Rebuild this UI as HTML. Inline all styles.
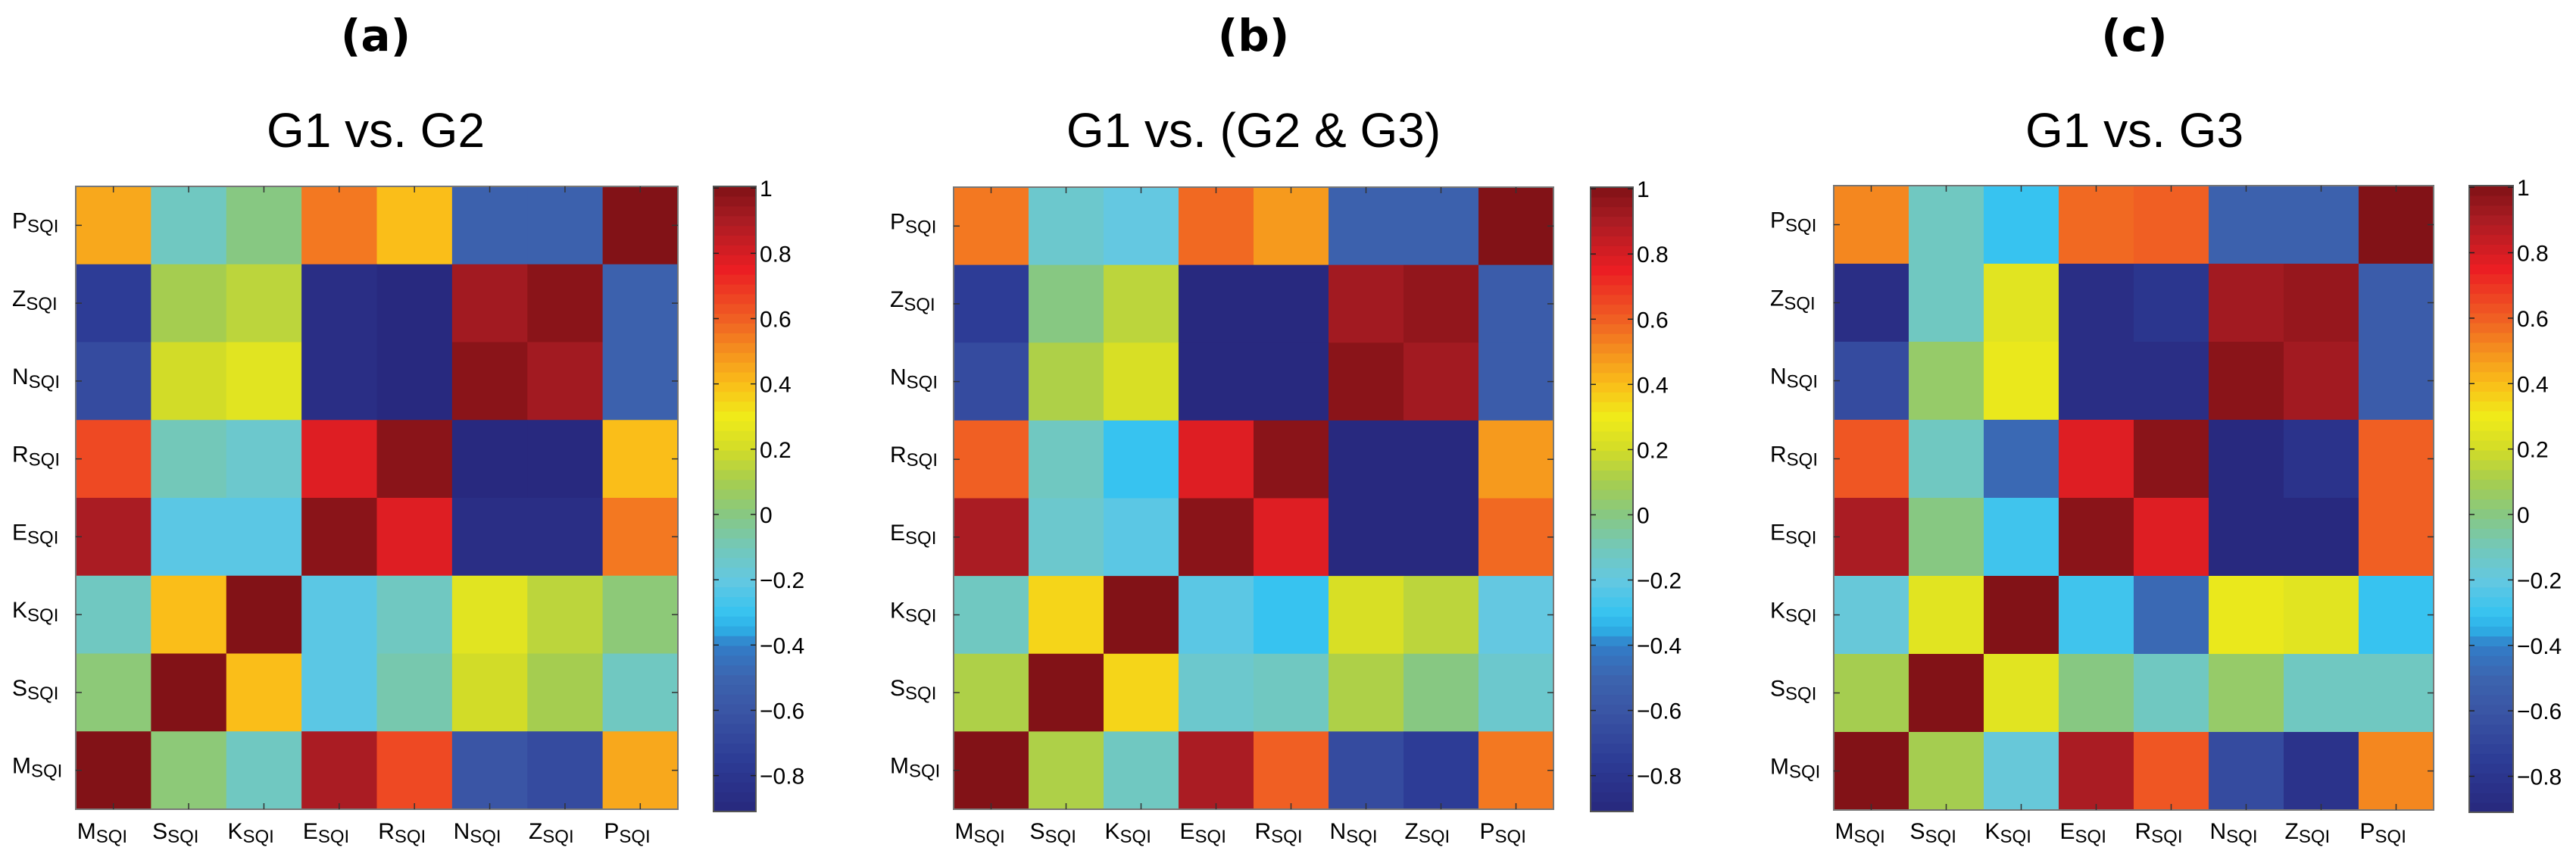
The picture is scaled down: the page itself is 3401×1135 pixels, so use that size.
<!DOCTYPE html>
<html><head><meta charset="utf-8">
<style>
html,body{margin:0;padding:0;background:#fff;}
svg{display:block;font-family:"Liberation Sans",Arial,sans-serif;}
</style></head>
<body>
<svg id="fig" width="3401" height="1135" viewBox="0 0 3401 1135" xmlns="http://www.w3.org/2000/svg"></svg>
<script>
// ---- data ----
const labels = ["M","S","K","E","R","N","Z","P"];           // columns (x) left->right
const rowLabels = ["P","Z","N","R","E","K","S","M"];        // rows top->bottom
const cbTicks = [1,0.8,0.6,0.4,0.2,0,-0.2,-0.4,-0.6,-0.8];
const cbTickLabels = ["1","0.8","0.6","0.4","0.2","0","\u22120.2","\u22120.4","\u22120.6","\u22120.8"];
const panelTags = ["(a)","(b)","(c)"];
const panelTitles = ["G1 vs. G2","G1 vs. (G2 & G3)","G1 vs. G3"];
// matrices: rows top->bottom (P,Z,N,R,E,K,S,M), cols M..P
const matA = [
 [0.45,-0.12,0.0,0.55,0.4,-0.52,-0.52,1],
 [-0.75,0.1,0.15,-0.86,-0.9,0.92,0.98,-0.52],
 [-0.66,0.2,0.25,-0.86,-0.9,0.98,0.92,-0.52],
 [0.65,-0.1,-0.15,0.78,0.98,-0.9,-0.9,0.4],
 [0.9,-0.22,-0.22,0.98,0.78,-0.86,-0.86,0.55],
 [-0.12,0.4,1,-0.22,-0.12,0.25,0.15,0.02],
 [0.02,1,0.4,-0.22,-0.08,0.2,0.1,-0.12],
 [1,0.02,-0.12,0.9,0.65,-0.6,-0.66,0.45]
];
const matB = [
 [0.55,-0.15,-0.2,0.58,0.48,-0.52,-0.52,1],
 [-0.75,0.0,0.15,-0.9,-0.9,0.92,0.96,-0.55],
 [-0.66,0.12,0.22,-0.9,-0.9,0.98,0.92,-0.55],
 [0.6,-0.12,-0.3,0.78,0.98,-0.9,-0.9,0.48],
 [0.9,-0.15,-0.22,0.98,0.78,-0.9,-0.9,0.58],
 [-0.12,0.35,1,-0.22,-0.3,0.22,0.15,-0.2],
 [0.12,1,0.35,-0.15,-0.12,0.12,0.0,-0.15],
 [1,0.12,-0.12,0.9,0.6,-0.66,-0.75,0.55]
];
const matC = [
 [0.52,-0.12,-0.3,0.58,0.6,-0.52,-0.52,1],
 [-0.86,-0.12,0.25,-0.86,-0.8,0.92,0.95,-0.55],
 [-0.66,0.05,0.28,-0.86,-0.86,0.98,0.92,-0.55],
 [0.62,-0.12,-0.48,0.78,0.98,-0.9,-0.82,0.6],
 [0.9,0.0,-0.28,0.98,0.78,-0.9,-0.9,0.6],
 [-0.18,0.25,1,-0.28,-0.48,0.28,0.25,-0.3],
 [0.1,1,0.25,0.0,-0.12,0.05,-0.12,-0.12],
 [1,0.1,-0.18,0.9,0.62,-0.66,-0.82,0.52]
];
const matrices = [matA, matB, matC];

// ---- layout ----
const panels = [
 {x0:100, x1:895, y0:246, y1:1068, cb0:942, cb1:998, cx:496},
 {x0:1259,x1:2051,y0:247, y1:1068, cb0:2100,cb1:2156,cx:1655},
 {x0:2421,x1:3213,y0:245, y1:1069, cb0:3260,cb1:3318,cx:2818}
];
const vmin=-0.91, vmax=1.005;
const stops=[
 [-0.91,[40,40,125]],[-0.75,[45,60,150]],[-0.6,[58,85,165]],[-0.5,[60,100,175]],
 [-0.4,[50,125,200]],[-0.35,[45,175,230]],[-0.3,[55,195,240]],[-0.2,[100,200,225]],
 [-0.1,[115,200,185]],[0.0,[135,200,130]],[0.1,[165,205,80]],[0.2,[210,220,40]],
 [0.3,[240,235,25]],[0.4,[250,190,25]],[0.5,[245,145,30]],[0.6,[240,95,35]],
 [0.75,[235,30,35]],[0.9,[170,28,35]],[1.005,[128,18,22]]
];
function cmap(v){
  if(v<=stops[0][0]) return `rgb(${stops[0][1]})`;
  for(let i=1;i<stops.length;i++){
    if(v<=stops[i][0]){
      const a=stops[i-1],b=stops[i],t=(v-a[0])/(b[0]-a[0]);
      const c=a[1].map((q,k)=>Math.round(q+(b[1][k]-q)*t));
      return `rgb(${c.join(',')})`;
    }
  }
  return `rgb(${stops[stops.length-1][1]})`;
}
const NS="http://www.w3.org/2000/svg";
const svg=document.getElementById('fig');
function mk(tag,attrs,parent){const e=document.createElementNS(NS,tag);for(const k in attrs)e.setAttribute(k,attrs[k]);(parent||svg).appendChild(e);return e;}

panels.forEach((p,pi)=>{
  const g=mk('g',{});
  
  
  const tag=mk('text',{x:p.cx,y:67,'text-anchor':'middle','font-size':58,'font-weight':'bold','font-family':'"DejaVu Sans",sans-serif'},g);
  tag.textContent=panelTags[pi];
  
  
  const tt=mk('text',{x:p.cx,y:194,'text-anchor':'middle','font-size':64},g);
  tt.textContent=panelTitles[pi];
  
  

  const n=labels.length, cw=(p.x1-p.x0)/n, ch=(p.y1-p.y0)/rowLabels.length;
  const xs=i=>p.x0+i*cw, ys=j=>p.y0+j*ch;
  const m=matrices[pi];
  m.forEach((row,j)=>row.forEach((v,i)=>{
    const r=mk('rect',{x:xs(i),y:ys(j),width:cw+0.6,height:ch+0.6,fill:cmap(v)},g);
    
    
  }));
  mk('rect',{x:p.x0,y:p.y0,width:p.x1-p.x0,height:p.y1-p.y0,fill:'none',stroke:'#777','stroke-width':2},g);
  // ticks
  for(let i=0;i<n;i++){
    const cx=xs(i)+cw/2;
    mk('line',{x1:cx,x2:cx,y1:p.y1,y2:p.y1-8,stroke:'#333','stroke-width':1.5},g);
    mk('line',{x1:cx,x2:cx,y1:p.y0,y2:p.y0+8,stroke:'#333','stroke-width':1.5},g);
    const t=mk('text',{x:cx-48,y:1107,'font-size':30},g);
    
    
    t.innerHTML=labels[i]+'<tspan font-size="24" dy="5">SQI</tspan>';
  }
  rowLabels.forEach((lb,j)=>{
    const cy=ys(j)+ch/2;
    mk('line',{x1:p.x0,x2:p.x0+8,y1:cy,y2:cy,stroke:'#333','stroke-width':1.5},g);
    mk('line',{x1:p.x1,x2:p.x1-8,y1:cy,y2:cy,stroke:'#333','stroke-width':1.5},g);
    const t=mk('text',{x:p.x0-84,y:cy+4,'font-size':30},g);
    
    
    t.innerHTML=lb+'<tspan font-size="24" dy="5">SQI</tspan>';
  });
  // colorbar
  const cbTop=p.y0, cbBot=p.y1+3;
  const cy=v=>cbBot-(v-vmin)/(vmax-vmin)*(cbBot-cbTop);
  const cb=mk('g',{},g);
  
  
  const N=64;
  for(let k=0;k<N;k++){
    const v0=vmin+(vmax-vmin)*k/N, v1=vmin+(vmax-vmin)*(k+1)/N;
    mk('rect',{x:p.cb0,y:cy(v1),width:p.cb1-p.cb0,height:cy(v0)-cy(v1)+0.6,fill:cmap((v0+v1)/2)},cb);
  }
  mk('rect',{x:p.cb0,y:cbTop,width:p.cb1-p.cb0,height:cbBot-cbTop,fill:'none',stroke:'#555','stroke-width':2},cb);
  cbTicks.forEach((v,k)=>{
    const y=cy(v);
    mk('line',{x1:p.cb0,x2:p.cb0+7,y1:y,y2:y,stroke:'#222','stroke-width':1.5},cb);
    mk('line',{x1:p.cb1,x2:p.cb1-7,y1:y,y2:y,stroke:'#222','stroke-width':1.5},cb);
    const t=mk('text',{x:p.cb1+5,y:y+11,'font-size':30},cb);
    
    
    t.textContent=cbTickLabels[k];
  });
});
</script>
</body></html>
